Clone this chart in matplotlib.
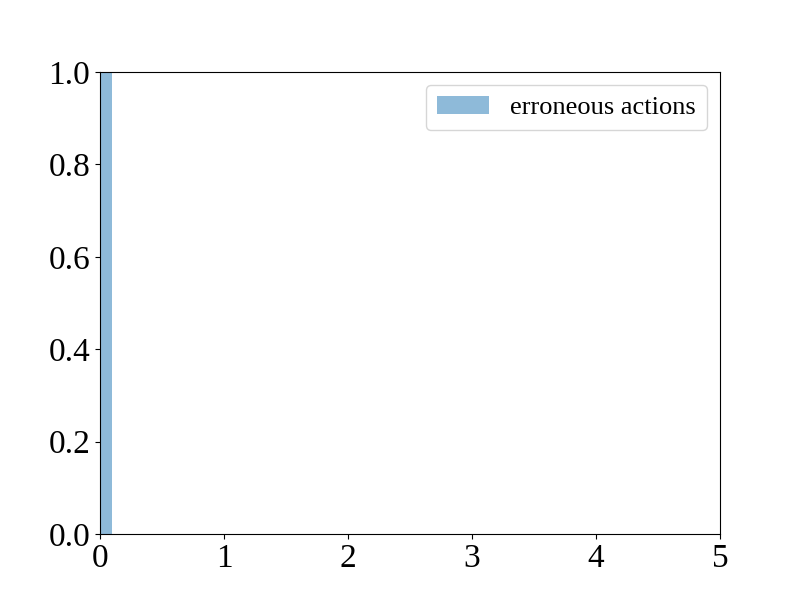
import matplotlib
matplotlib.use("Agg")
import matplotlib.pyplot as plt

# Fraction of episodes per bin of erroneous actions (bin width 0.1)
bin_edges = [0.0, 0.1]
bin_values = [1.0]
series_label = "erroneous actions"

plt.rcParams.update({
    "font.family": "serif",
    "font.serif": ["Liberation Serif", "DejaVu Serif"],
    "mathtext.fontset": "stix",
})

fig, ax = plt.subplots(figsize=(8, 6), dpi=100)

widths = [bin_edges[i + 1] - bin_edges[i] for i in range(len(bin_values))]
ax.bar(bin_edges[:-1], bin_values, width=widths, align="edge",
       color="tab:blue", alpha=0.5, label=series_label)

ax.set_xlim(0, 5)
ax.set_ylim(0, 1.0)
ax.tick_params(labelsize=24)
ax.legend(loc="upper right", fontsize=19)

fig.savefig("out.png", dpi=100)
